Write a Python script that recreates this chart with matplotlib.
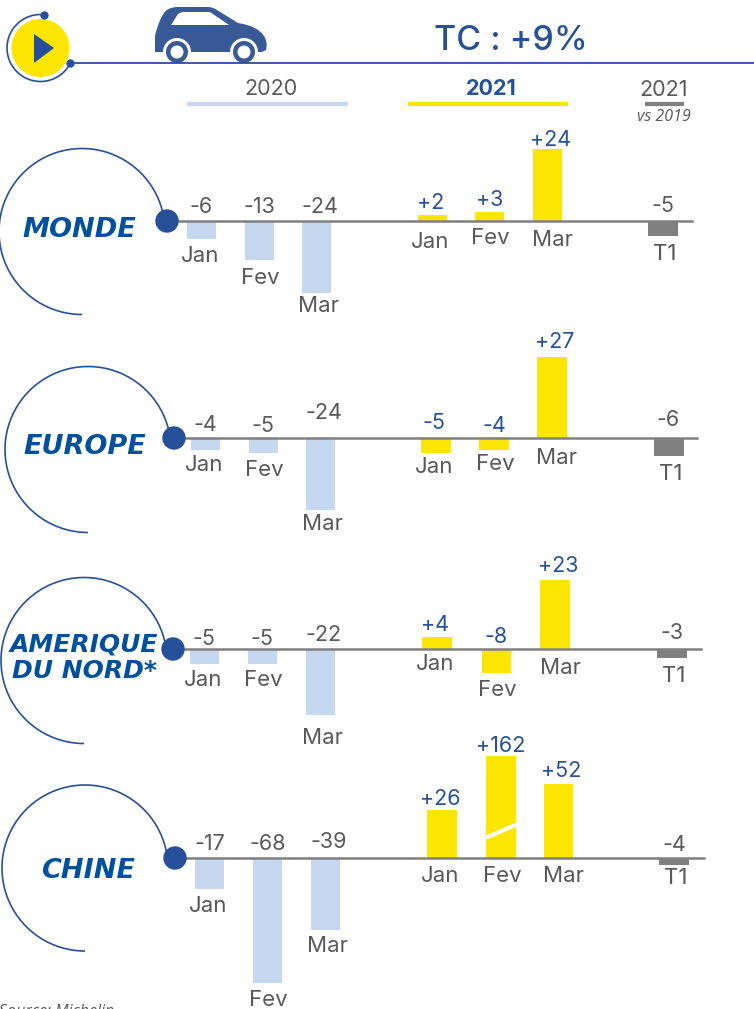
import numpy as np
import matplotlib
matplotlib.use("Agg")
import matplotlib.pyplot as plt
from matplotlib.patches import Arc, Circle, Polygon, PathPatch
from matplotlib.path import Path

W, H = 754, 1009

REGIONS = ["MONDE", "EUROPE", "AMERIQUE\nDU NORD*", "CHINE"]
MONTHS = ["Jan", "Fev", "Mar"]
VALUES_2020 = [[-6, -13, -24], [-4, -5, -24], [-5, -5, -22], [-17, -68, -39]]
VALUES_2021 = [[2, 3, 24], [-5, -4, 27], [4, -8, 23], [26, 162, 52]]
VALUES_T1 = [-5, -6, -3, -4]

BLUE = "#27509b"
REGION_BLUE = "#00509e"
CAR_BLUE = "#3a5a97"
LIGHT = "#c6d8f0"
YELLOW = "#fce500"
GREY = "#808080"
TEXT = "#595959"
FONT = "Inter"
FONT_IT = "Open Sans"

# layout of each panel, in pixels
BASE_Y = [221, 438, 649, 858]
X_2020 = [[201.5, 259, 316.5], [205, 263, 320.5], [204, 262, 320.5], [209.5, 267.5, 325.5]]
X_2021 = [[432.5, 489.5, 547.5], [436, 494, 552], [437, 496.5, 555], [442, 501, 558.5]]
X_T1 = [663, 668.5, 672, 674]
LINE_X = [(175, 692), (180, 697), (180, 701), (182, 704)]
DOT_X = [167, 174, 173, 175]
ARC_CENTER = [(82, 231.5), (88, 449.5), (84, 660.5), (85, 868)]
ARC_R = 83
LABEL_X = [79, 85, 84, 88]
LABEL_Y = [230, 447, 658, 871]
LABEL_SIZE = [19.5, 19.5, 18, 19.5]
PX_PER_UNIT = [3.0, 3.0, 3.0, 1.84]

# gaps for Jan/Fev/Mar 2020, Jan/Fev/Mar 2021, T1
VALUE_GAP = [[8, 8, 8, 6, 6, 3, 9],
             [7, 6, 19, 9, 6, 9, 12],
             [4, 4, 8, 6, 6, 8, 10],
             [8, 8, 10, 5, 4, 7, 7]]
MONTH_GAP = [[8, 8, 4, 11, 8, 9, 8],
             [5, 7, 4, 4, 4, 10, 8],
             [6, 6, 13, 6, 8, 9, 9],
             [7, 7, 7, 8, 8, 8, 3]]
VALUE_SHIFT = [0, 0, 3, -2, 0, 3, 0]
MONTH_SHIFT = [-1, 1, 2, -2, 1, 5, 2]
CAP_PX = 15.5
PT = 0.72


def px_axes(fig):
    ax = fig.add_axes([0, 0, 1, 1], facecolor="none")
    ax.set_xlim(0, W)
    ax.set_ylim(H, 0)
    ax.axis("off")
    return ax


def panel_axes(fig, base, scale, broken):
    # y axis is in percent, baseline and pixel scale fixed per panel
    ax = fig.add_axes([0, 0, 1, 1], facecolor="none")
    ax.set_xlim(0, W)
    ax.axis("off")
    if broken:
        # top of the axis is compressed, the tallest bar carries a break mark
        vals = np.array([-2000.0, 0.0, 26.0, 52.0, 162.0, 2062.0])
        pix = np.array([-2000 * scale, 0.0, 48.0, 74.0, 102.0, 2002.0])
        ax.set_yscale("function", functions=(lambda v: np.interp(v, vals, pix),
                                             lambda p: np.interp(p, pix, vals)))
        ax.set_ylim(np.interp(-(H - base), pix, vals), np.interp(base, pix, vals))
    else:
        ax.set_ylim(-(H - base) / scale, base / scale)
    return ax


def draw_group(ax, xs, values, width, color, labels, value_color, value_gap, month_gap,
               value_shift, month_shift):
    ax.bar(xs, values, width=width, color=color, linewidth=0, zorder=2)
    for j, (x, v, lab) in enumerate(zip(xs, values, labels)):
        ax.annotate(f"{v:+d}", (x, max(v, 0)),
                    xytext=(value_shift[j] * PT, value_gap[j] * PT), textcoords="offset points",
                    ha="center", va="baseline", fontsize=15.5, color=value_color, family=FONT)
        ax.annotate(lab, (x, min(v, 0)),
                    xytext=(month_shift[j] * PT, -(month_gap[j] + CAP_PX) * PT),
                    textcoords="offset points",
                    ha="center", va="baseline", fontsize=16, color=TEXT, family=FONT)


def draw_car(ax):
    M, L, C = Path.MOVETO, Path.LINETO, Path.CURVE3
    body = [(M, (155, 52)), (L, (155, 36)),
            (C, (158, 22)), (C, (164, 13)),
            (C, (167, 8)), (C, (176, 7)),
            (L, (208, 7)), (C, (213, 7)), (C, (217, 10)),
            (L, (238, 23)), (C, (258, 26)), (C, (264, 36)),
            (C, (268, 42)), (C, (266, 50)),
            (L, (262, 52)), (L, (155, 52))]
    codes, verts = zip(*body)
    ax.add_patch(PathPatch(Path(verts, codes), fc=CAR_BLUE, ec="none"))
    ax.add_patch(Polygon([(171, 25), (178, 14), (182, 12), (210, 12), (229, 25)],
                         fc="white", ec="none"))
    for cx in (177, 244):
        ax.add_patch(Circle((cx, 52), 14, fc="white", ec="none"))
        ax.add_patch(Circle((cx, 52), 11, fc=CAR_BLUE, ec="none"))
        ax.add_patch(Circle((cx, 52), 6.5, fc="white", ec="none"))


fig = plt.figure(figsize=(W / 100, H / 100), dpi=100)
top = px_axes(fig)
top.set_zorder(5)

# header
top.plot([70, W], [63, 63], color=BLUE, lw=1.3)
top.add_patch(Circle((40.5, 48), 29, fc=YELLOW, ec="none"))
top.add_patch(Polygon([(34, 34), (54, 48), (34, 63)], fc=BLUE, ec="none"))
top.add_patch(Arc((40.5, 48), 67, 67, theta1=27, theta2=276, color=BLUE, lw=1.2))
top.plot([44, 70], [15, 63], ls="none", marker="o", ms=5, color=BLUE)
draw_car(top)
top.text(511, 41, "TC : +9%", ha="center", va="center", fontsize=24.5, color=BLUE,
         family=FONT, fontweight="medium")

top.text(271, 89, "2020", ha="center", va="center", fontsize=15.5, color=TEXT, family=FONT)
top.plot([187, 348], [104, 104], color=LIGHT, lw=3, solid_capstyle="butt")
top.text(491, 89, "2021", ha="center", va="center", fontsize=15.5, color=BLUE, family=FONT,
         fontweight="bold")
top.plot([408, 568], [104, 104], color=YELLOW, lw=3, solid_capstyle="butt")
top.text(664, 90, "2021", ha="center", va="center", fontsize=15.5, color=TEXT, family=FONT)
top.plot([645, 684], [104, 104], color=GREY, lw=3, solid_capstyle="butt")
top.text(664, 117, "vs 2019", ha="center", va="center", fontsize=11.5, color=TEXT,
         family=FONT_IT, style="italic")

for i, region in enumerate(REGIONS):
    base = BASE_Y[i]
    ax = panel_axes(fig, base, PX_PER_UNIT[i], broken=region == "CHINE")
    vg, mg = VALUE_GAP[i], MONTH_GAP[i]
    draw_group(ax, X_2020[i], VALUES_2020[i], 29, LIGHT, MONTHS, TEXT, vg[:3], mg[:3],
               VALUE_SHIFT[:3], MONTH_SHIFT[:3])
    draw_group(ax, X_2021[i], VALUES_2021[i], 29.5, YELLOW, MONTHS, BLUE, vg[3:6], mg[3:6],
               VALUE_SHIFT[3:6], MONTH_SHIFT[3:6])
    draw_group(ax, [X_T1[i]], [VALUES_T1[i]], 30, GREY, ["T1"], TEXT, vg[6:], mg[6:],
               VALUE_SHIFT[6:], MONTH_SHIFT[6:])

    top.plot(LINE_X[i], [base, base], color=GREY, lw=1.8, zorder=1)
    top.add_patch(Arc(ARC_CENTER[i], 2 * ARC_R, 2 * ARC_R, theta1=90, theta2=350,
                      color=BLUE, lw=1.2))
    top.add_patch(Circle((DOT_X[i], base), 11.7, fc=BLUE, ec="none", zorder=5))
    top.text(LABEL_X[i], LABEL_Y[i], region, ha="center", va="center", fontsize=LABEL_SIZE[i],
             color=REGION_BLUE, family="DejaVu Sans", fontweight="bold", style="italic",
             linespacing=1.12)

# white slash across the broken bar
ax.plot([X_2021[3][1] - 15, X_2021[3][1] + 15], [11, 18], color="white", lw=3, zorder=3,
        solid_capstyle="butt")

top.text(114, 1016, "Source: Michelin", ha="right", va="baseline", fontsize=11.5, color=TEXT,
         family=FONT_IT, style="italic", clip_on=False)

fig.savefig("out.png", dpi=100)
plt.close(fig)
